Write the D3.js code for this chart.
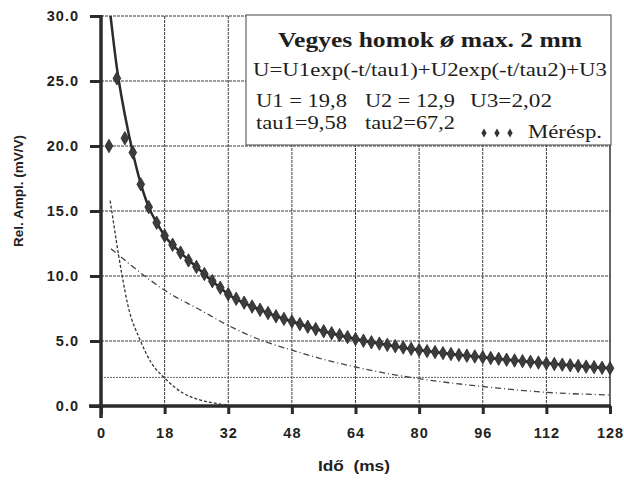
<!DOCTYPE html>
<html><head><meta charset="utf-8">
<script src="https://cdn.jsdelivr.net/npm/d3@7"></script>
<style>
html,body{margin:0;padding:0;background:#fff;}
svg{display:block;}
</style></head>
<body>
<svg id="chart" width="624" height="481"></svg>
<script>
// ---- data ----
const measTimes = [2,4,6,8,10,12,14,16,18,20,22,24,26,28,30,32,34,36,38,40,42,44,46,48,50,52,54,56,58,60,62,64,
  66,68,70,72,74,76,78,80,82,84,86,88,90,92,94,96,98,100,102,104,106,108,110,112,114,116,118,120,122,124,126,128];
const measValues = [20.0,25.2,20.6,19.5,17.05,15.3,14.1,13.1,12.4,11.8,11.2,10.7,10.15,9.6,9.1,8.6,8.25,7.95,7.65,7.4,7.15,6.9,6.7,6.5,6.3,6.1,5.92,5.75,5.6,5.45,5.3,5.15,
  5.02,4.9,4.8,4.7,4.6,4.5,4.4,4.3,4.22,4.15,4.07,4.0,3.93,3.87,3.81,3.75,3.69,3.63,3.56,3.5,3.45,3.4,3.34,3.28,3.23,3.18,3.13,3.08,3.03,2.99,2.94,2.9];

const fitTimes  = [2.4,4,6,8,10,12,14,16,20,24,28,32,40,48,56,64,72,80,88,96,104,112,120,128];
const fitValues = [30.0,26.0,22.4,19.5,17.1,15.3,14.1,13.1,11.8,10.7,9.6,8.6,7.4,6.5,5.75,5.15,4.7,4.3,4.0,3.75,3.5,3.28,3.08,2.9];

const comp1Times  = [2.3,2.7,3.9,5.2,6.8,9.8,12.7,16,20.6,25,30,32];
const comp1Values = [15.8,15.0,12.6,10.2,7.7,5.1,3.3,2.15,1.0,0.46,0.15,0.05];

const comp2Times  = [2.5,12.3,16,24.9,32,40,48,55,64,72,80,96,112,128];
const comp2Values = [12.1,9.7,8.9,7.4,6.2,5.1,4.3,3.67,3.0,2.5,2.1,1.5,1.05,0.85];

const baseLineValue = [2.2];

const xTickValues = [0,16,32,48,64,80,96,112,128];
const xTickLabels = ["0","18","32","48","64","80","96","112","128"];
const yTickValues = [0,5,10,15,20,25,30];
const yTickLabels = ["0.0","5.0","10.0","15.0","20.0","25.0","30.0"];

const xTitle = "Idő  (ms)";
const yTitle = "Rel. Ampl. (mV/V)";
const legendTitle = "Vegyes homok ";
const legendFormula = "U=U1exp(-t/tau1)+U2exp(-t/tau2)+U3";
const legendParams1 = ["U1 = 19,8", "U2 = 12,9", "U3=2,02"];
const legendParams2 = ["tau1=9,58", "tau2=67,2"];
const legendPoints = "Mérésp.";

// ---- layout ----
const svg = d3.select("#chart");
const x = d3.scaleLinear().domain([0,128]).range([101,610]);
const y = d3.scaleLinear().domain([0,30]).range([406,16]);
const ink = "#2b2b2b";

// grid
const grid = svg.append("g");
grid.selectAll(".vg").data(xTickValues.slice(1,-1)).join("line")
  .attr("x1",d=>x(d)).attr("x2",d=>x(d)).attr("y1",y(30)).attr("y2",y(0))
  .attr("stroke","#3a3a3a").attr("stroke-width",1).attr("stroke-dasharray","3,1");
grid.selectAll(".hg").data(yTickValues.slice(1)).join("line")
  .attr("x1",x(0)).attr("x2",x(128)).attr("y1",d=>y(d)).attr("y2",d=>y(d))
  .attr("stroke","#3a3a3a").attr("stroke-width",1).attr("stroke-dasharray","3,1");
grid.selectAll(".bl").data(baseLineValue).join("line")
  .attr("x1",x(0)).attr("x2",x(128)).attr("y1",d=>y(d)).attr("y2",d=>y(d))
  .attr("stroke","#666").attr("stroke-width",1).attr("stroke-dasharray","2,1");
// right frame
svg.append("line").attr("x1",x(128)).attr("x2",x(128)).attr("y1",y(30)).attr("y2",y(0))
  .attr("stroke","#333").attr("stroke-width",1.5);

// component curves
const lineGen = (ts) => d3.line().x((d,i)=>x(ts[i])).y(d=>y(d)).curve(d3.curveMonotoneX);
svg.append("path").datum(comp1Values).attr("d",lineGen(comp1Times))
  .attr("fill","none").attr("stroke","#333").attr("stroke-width",1.3).attr("stroke-dasharray","3,2");
svg.append("path").datum(comp2Values).attr("d",lineGen(comp2Times))
  .attr("fill","none").attr("stroke","#444").attr("stroke-width",1.3).attr("stroke-dasharray","6,3,1,3");

// fit line
svg.append("path").datum(fitValues).attr("d",lineGen(fitTimes))
  .attr("fill","none").attr("stroke",ink).attr("stroke-width",2.5);

// measured points
const diamond = d3.symbol().type(d3.symbolDiamond).size(52);
svg.append("g").selectAll("path").data(measValues).join("path")
  .attr("transform",(d,i)=>`translate(${x(measTimes[i])},${y(d)})`)
  .attr("d",diamond).attr("fill","#3c3c3c").attr("stroke","#2a2a2a").attr("stroke-width",0.8);

// axes
const xAxis = d3.axisBottom(x).tickValues(xTickValues).tickSize(8)
  .tickFormat((d,i)=>xTickLabels[i]).tickPadding(14);
const gx = svg.append("g").attr("transform",`translate(0,${y(0)})`).call(xAxis);
const yAxis = d3.axisLeft(y).tickValues(yTickValues).tickSize(11)
  .tickFormat((d,i)=>yTickLabels[i]).tickPadding(11);
const gy = svg.append("g").attr("transform",`translate(${x(0)},0)`).call(yAxis);
[gx,gy].forEach(g=>{
  g.select(".domain").attr("stroke",ink).attr("stroke-width",3.5);
  g.selectAll(".tick line").attr("stroke",ink).attr("stroke-width",3);
  g.selectAll(".tick text").attr("fill","#222").attr("font-family","Liberation Sans, Arial, sans-serif")
    .attr("font-weight","bold").attr("font-size",14.5).attr("letter-spacing",1);
});
gx.select(".domain").attr("d",`M${x(0)-12},0H${x(128)+1}`);
gy.select(".domain").attr("d",`M0,${y(0)+12}V${y(30)-1}`);

// axis titles
svg.append("text").attr("x",318).attr("y",471)
  .attr("font-family","Liberation Sans, Arial, sans-serif").attr("font-weight","bold")
  .attr("font-size",14).attr("fill","#222").attr("xml:space","preserve")
  .attr("textLength",72).attr("lengthAdjust","spacingAndGlyphs").text(xTitle);
svg.append("text").attr("transform","translate(23,191) rotate(-90)").attr("text-anchor","middle")
  .attr("font-family","Liberation Sans, Arial, sans-serif").attr("font-weight","bold")
  .attr("font-size",13.5).attr("fill","#222").text(yTitle);

// legend box
const lg = svg.append("g");
lg.append("rect").attr("x",246).attr("y",15).attr("width",365).attr("height",130)
  .attr("fill","#fff").attr("stroke","#444").attr("stroke-width",1);
const serif = "Liberation Serif, Times New Roman, serif";
const t1 = lg.append("text").attr("x",278).attr("y",47).attr("font-family",serif)
  .attr("font-weight","bold").attr("font-size",21).attr("fill","#1e1e1e")
  .attr("textLength",304).attr("lengthAdjust","spacingAndGlyphs");
t1.append("tspan").text(legendTitle);
t1.append("tspan").attr("font-style","italic").attr("font-size",23).text("ø");
t1.append("tspan").text(" max. 2 mm");
lg.append("text").attr("x",253).attr("y",76).attr("font-family",serif)
  .attr("font-size",19).attr("fill","#1e1e1e")
  .attr("textLength",354).attr("lengthAdjust","spacingAndGlyphs").text(legendFormula);
const p1x = [256,365,470], p1w = [91,90,82];
lg.selectAll(".p1").data(legendParams1).join("text").attr("x",(d,i)=>p1x[i]).attr("y",107)
  .attr("font-family",serif).attr("font-size",18).attr("fill","#1e1e1e")
  .attr("textLength",(d,i)=>p1w[i]).attr("lengthAdjust","spacingAndGlyphs").text(d=>d);
const p2x = [256,365], p2w = [91,90];
lg.selectAll(".p2").data(legendParams2).join("text").attr("x",(d,i)=>p2x[i]).attr("y",129)
  .attr("font-family",serif).attr("font-size",18).attr("fill","#1e1e1e")
  .attr("textLength",(d,i)=>p2w[i]).attr("lengthAdjust","spacingAndGlyphs").text(d=>d);
const ld = d3.symbol().type(d3.symbolDiamond).size(24);
lg.selectAll(".ld").data([484,497,510]).join("path")
  .attr("transform",d=>`translate(${d},133)`).attr("d",ld).attr("fill","#333");
lg.append("text").attr("x",528).attr("y",138).attr("font-family",serif)
  .attr("font-size",18).attr("fill","#1e1e1e")
  .attr("textLength",74).attr("lengthAdjust","spacingAndGlyphs").text(legendPoints);
</script>
</body></html>
